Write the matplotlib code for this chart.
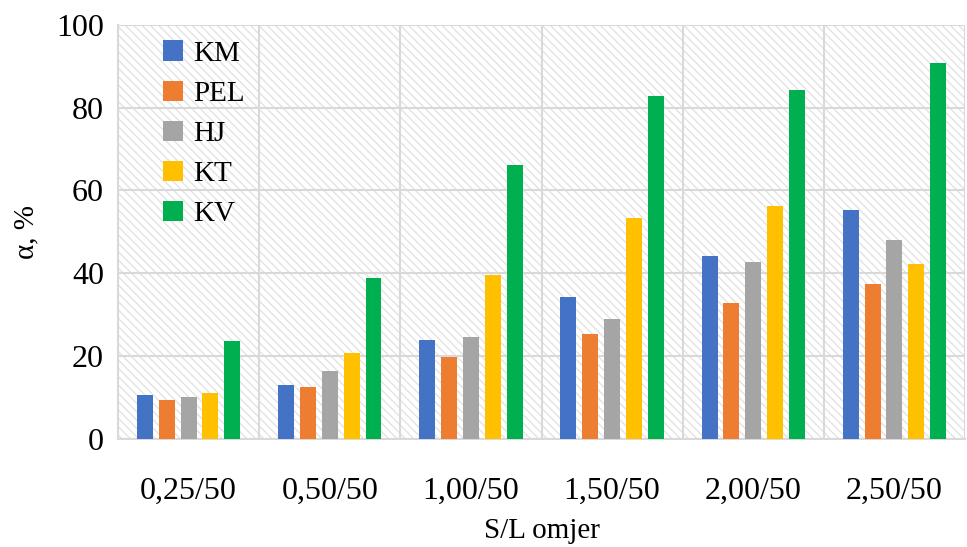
import matplotlib
matplotlib.use("Agg")
import matplotlib.pyplot as plt
import numpy as np
from matplotlib.patches import Rectangle

plt.rcParams['font.family'] = ['Liberation Serif', 'DejaVu Serif']
plt.rcParams['hatch.color'] = '#dcdcdc'
plt.rcParams['hatch.linewidth'] = 1.0

categories = ["0,25/50", "0,50/50", "1,00/50", "1,50/50", "2,00/50", "2,50/50"]
series_names = ["KM", "PEL", "HJ", "KT", "KV"]
KM = [10.6, 13.0, 24.0, 34.2, 44.2, 55.2]
PEL = [9.4, 12.7, 19.9, 25.5, 32.8, 37.4]
HJ = [10.2, 16.4, 24.6, 28.9, 42.7, 48.0]
KT = [11.1, 20.8, 39.5, 53.3, 56.2, 42.3]
KV = [23.6, 38.9, 66.1, 82.8, 84.2, 90.8]
values = [KM, PEL, HJ, KT, KV]
colors = ["#4472c4", "#ed7d31", "#a5a5a5", "#ffc000", "#00b050"]

fig = plt.figure(figsize=(9.67, 5.47), dpi=100)
ax = fig.add_axes([0.122, 0.197, 0.876, 0.758])

x = np.arange(len(categories))
step = 0.155
width = 0.113
for i, (name, vals, c) in enumerate(zip(series_names, values, colors)):
    ax.bar(x + (i - 2) * step, vals, width=width, color=c, label=name, zorder=3)

ax.set_xlim(-0.5, len(categories) - 0.5)
ax.set_ylim(0, 100)
ax.add_patch(Rectangle((0, 0), 1, 1, transform=ax.transAxes, facecolor='white',
                       hatch='\\\\\\\\', edgecolor='#e3e3e3', linewidth=0, zorder=0))

ax.set_yticks(np.arange(0, 101, 20))
ax.set_xticks(x)
ax.set_xticklabels(categories)
ax.set_xticks(np.arange(-0.5, len(categories), 1), minor=True)
ax.grid(axis='y', which='major', color='#d9d9d9', linewidth=1.5, zorder=1)
ax.grid(axis='x', which='minor', color='#d9d9d9', linewidth=1.5, zorder=1)
ax.tick_params(axis='both', which='both', length=0, labelsize=23, pad=10)
ax.tick_params(axis='x', pad=27)
for s in ['top', 'right']:
    ax.spines[s].set_visible(False)
for s in ['left', 'bottom']:
    ax.spines[s].set_color('#d9d9d9')
    ax.spines[s].set_linewidth(1.5)

ax.set_xlabel("S/L omjer", fontsize=21, labelpad=9)
ax.set_ylabel("α, %", fontsize=21, labelpad=12)

leg = ax.legend(loc='upper left', bbox_to_anchor=(0.022, 1.025), frameon=False,
                fontsize=21, handlelength=0.7, handleheight=0.7, handletextpad=0.35,
                labelspacing=0.47)

fig.savefig("out.png", dpi=100)
